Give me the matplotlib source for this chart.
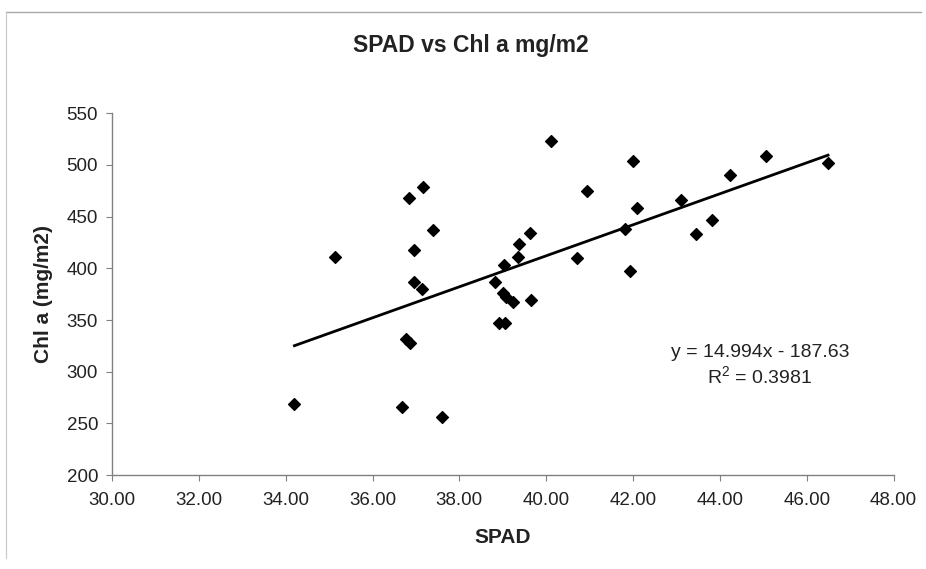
import matplotlib
matplotlib.use("Agg")
import matplotlib.pyplot as plt
import numpy as np
from matplotlib.lines import Line2D

plt.rcParams['font.family'] = ['Liberation Sans', 'DejaVu Sans']

# SPAD readings and Chl a (mg/m2)
spad = [34.20, 35.13, 36.67, 36.78, 36.86, 36.84, 36.95, 36.95, 37.15, 37.17,
        37.40, 37.61, 38.82, 38.92, 39.05, 39.01, 39.08, 39.03, 39.24, 39.35,
        39.38, 39.62, 39.64, 40.12, 40.70, 40.95, 41.81, 41.92, 42.00, 42.08,
        43.11, 43.46, 43.82, 44.23, 45.05, 46.49]
chla = [269, 411, 266, 332, 328, 468, 418, 387, 380, 479,
        437, 256, 387, 347, 347, 376, 372, 403, 367, 411,
        424, 434, 369, 523, 410, 475, 438, 397, 504, 458,
        466, 433, 447, 490, 509, 502]

slope = 14.994
intercept = -187.63
r2 = 0.3981

xticks = [30, 32, 34, 36, 38, 40, 42, 44, 46, 48]
yticks = [200, 250, 300, 350, 400, 450, 500, 550]

fig = plt.figure(figsize=(9.26, 5.69), dpi=100)
# chart area border (top and left edges visible in the scan)
fig.lines.append(Line2D([0.006, 0.995], [0.979, 0.979], transform=fig.transFigure,
                        color='#a8a8a8', linewidth=1))
fig.lines.append(Line2D([0.006, 0.006], [0.979, 0.02], transform=fig.transFigure,
                        color='#c8c8c8', linewidth=0.8))
ax = fig.add_axes([0.121, 0.165, 0.844, 0.636])

ax.scatter(spad, chla, marker='D', s=36, color='black', zorder=3)

xl = np.array([min(spad), max(spad)])
ax.plot(xl, slope * xl + intercept, color='black', linewidth=2)

ax.set_xlim(30, 48)
ax.set_ylim(200, 550)
ax.set_xticks(xticks)
ax.set_xticklabels(['%.2f' % v for v in xticks])
ax.set_yticks(yticks)

for s in ['top', 'right']:
    ax.spines[s].set_visible(False)
for s in ['left', 'bottom']:
    ax.spines[s].set_color('#808080')
    ax.spines[s].set_linewidth(1)
ax.tick_params(axis='both', colors='#808080', labelcolor='#222222', labelsize=13.5,
               length=4, width=0.8, direction='out')
ax.tick_params(axis='x', pad=8)
ax.tick_params(axis='y', pad=6)

fig.text(0.508, 0.92, 'SPAD vs Chl a mg/m2', fontsize=16.5, fontweight='bold',
         ha='center', va='center', color='#222222')
ax.set_xlabel('SPAD', fontsize=15, fontweight='bold', labelpad=14, color='#222222')
ax.set_ylabel('Chl a (mg/m2)', fontsize=15, fontweight='bold', labelpad=10, color='#222222')

ax.text(44.92, 306, 'y = 14.994x - 187.63\n$\\mathregular{R^2}$ = %.4f' % r2,
        ha='center', va='center', fontsize=14, color='#222222', linespacing=1.25)

fig.savefig('out.png', dpi=100)
